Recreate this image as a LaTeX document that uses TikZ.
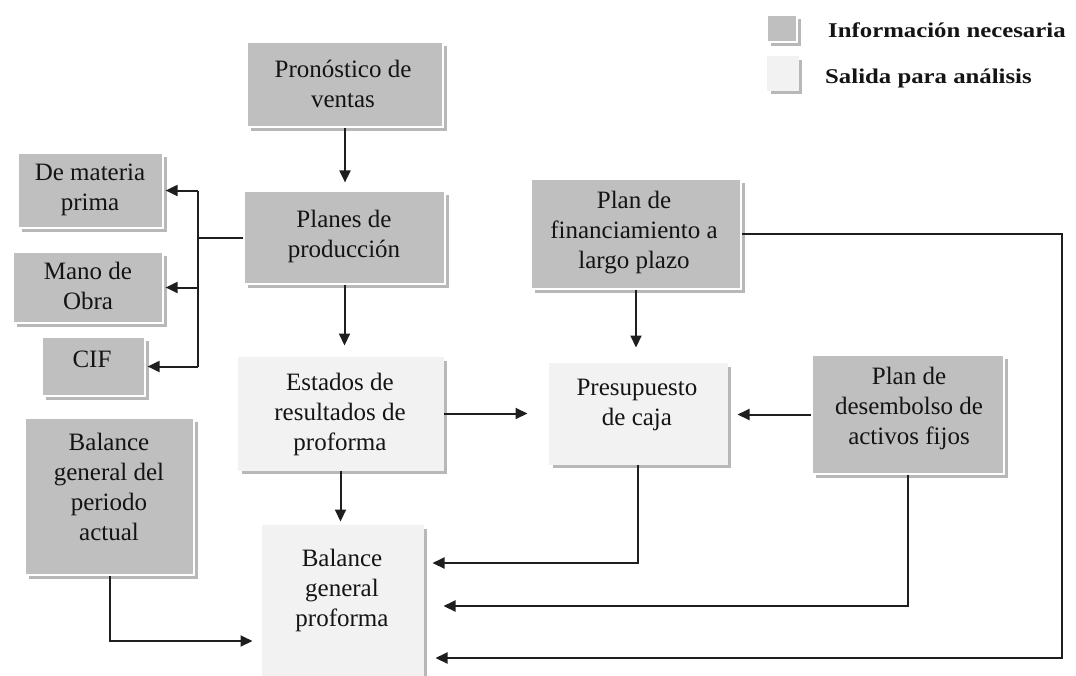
\documentclass[tikz,border=0pt]{standalone}
\usepackage{fontspec}
\setmainfont{Liberation Serif}
\newfontfamily\legfont[FakeStretch=1.18]{Liberation Serif}
\usetikzlibrary{arrows.meta,shadows,calc}
\definecolor{infogray}{HTML}{BFBFBF}
\definecolor{outlight}{HTML}{F2F2F2}
\definecolor{txtcol}{HTML}{141414}
\definecolor{linecol}{HTML}{1E1E1E}
\begin{document}
\begin{tikzpicture}[x=1pt,y=-1pt,
  shd/.style={drop shadow={shadow xshift=3.5pt,shadow yshift=-4pt,opacity=0.28,fill=black}},
  dbox/.style={shd,fill=infogray,draw=white,line width=1.2pt,inner sep=0pt},
  lbox/.style={shd,fill=outlight,draw=outlight,line width=1pt,inner sep=0pt},
  txt/.style={align=center,inner sep=0pt,text=txtcol,font=\fontsize{25}{30}\selectfont},
  legtxt/.style={anchor=west,inner sep=0pt,text=txtcol,font=\legfont\bfseries\fontsize{21}{25}\selectfont},
  line/.style={draw=linecol,line width=2pt},
  arr/.style={line,-{Triangle[length=12pt,width=11pt]}}
]
\useasboundingbox (0,0) rectangle (1076,675);

% legend
\node[dbox,minimum width=30pt,minimum height=27pt] (lg1) at (782,28.5) {};
\node[lbox,minimum width=31pt,minimum height=34pt] (lg2) at (782.5,73) {};
\node[legtxt] (lgt1) at (828,30) {Información necesaria};
\node[legtxt] (lgt2) at (825,78) {Salida para análisis};

% boxes
\node[dbox,minimum width=196pt,minimum height=85pt] (pron) at (345,84.5) {};
\node[dbox,minimum width=201pt,minimum height=93pt] (plan) at (344.5,237.5) {};
\node[dbox,minimum width=145pt,minimum height=75pt] (mat) at (90.5,190.5) {};
\node[dbox,minimum width=150pt,minimum height=71pt] (mano) at (88,287.5) {};
\node[dbox,minimum width=103pt,minimum height=59pt] (cif) at (93.5,366.5) {};
\node[dbox,minimum width=210pt,minimum height=110pt] (fin) at (636,234) {};
\node[lbox,minimum width=205pt,minimum height=113pt] (est) at (340.5,413.5) {};
\node[lbox,minimum width=178pt,minimum height=101pt] (pres) at (638,413.5) {};
\node[dbox,minimum width=192pt,minimum height=119pt] (des) at (908,414.5) {};
\node[dbox,minimum width=169pt,minimum height=157pt] (bal) at (109.5,496.5) {};
\node[lbox,minimum width=161pt,minimum height=152pt] (bgp) at (342.5,601) {};

% texts
\node[txt] (tpron) at (343,84) {Pronóstico de\\ventas};
\node[txt] (tplan) at (344,236) {Planes de\\producción};
\node[txt] (tmat) at (90,190) {De materia\\prima};
\node[txt] (tmano) at (88,286) {Mano de\\Obra};
\node[txt] (tcif) at (92,359) {CIF};
\node[txt] (tfin) at (634,233) {Plan de\\financiamiento a\\largo plazo};
\node[txt] (test) at (340,414) {Estados de\\resultados de\\proforma};
\node[txt] (tpres) at (637,405) {Presupuesto\\de caja};
\node[txt] (tdes) at (909,408) {Plan de\\desembolso de\\activos fijos};
\node[txt] (tbal) at (109,487) {Balance\\general del\\periodo\\actual};
\node[txt] (tbgp) at (342,590) {Balance\\general\\proforma};

% connectors
\draw[arr,shorten >=8pt] (pron.south) -- (pron.south |- plan.north);
\draw[arr,shorten >=11pt] (plan.south) -- (plan.south |- est.north);
\coordinate (junc) at (198,237.5);
\draw[line] (plan.west) -- (junc);
\draw[line] (junc |- mat.east) -- (junc |- cif.east);
\draw[arr,shorten >=2pt] (junc |- mat.east) -- (mat.east);
\draw[arr,shorten >=2pt] (junc |- mano.east) -- (mano.east);
\draw[arr,shorten >=2pt] (junc |- cif.east) -- (cif.east);
\draw[arr,shorten >=15pt] (fin.south) -- (fin.south |- pres.north);
\draw[arr,shorten >=21pt] (est.east) -- (est.east -| pres.west);
\draw[arr,shorten >=10pt] (des.west) -- (des.west -| pres.east);
\draw[arr,shorten >=3pt] (est.south) -- (est.south |- bgp.north);
\draw[arr,shorten >=9pt] (pres.south) |- ([yshift=38pt]bgp.east);
\draw[arr,shorten >=20pt] (des.south) |- ([yshift=-5pt]bgp.east);
\coordinate (rc) at (1062,234);
\draw[arr,shorten >=12pt] (fin.east) -- (rc) |- ([yshift=-57pt]bgp.east);
\draw[arr,shorten >=9pt] (bal.south) |- ([yshift=-40pt]bgp.west);
\end{tikzpicture}
\end{document}
